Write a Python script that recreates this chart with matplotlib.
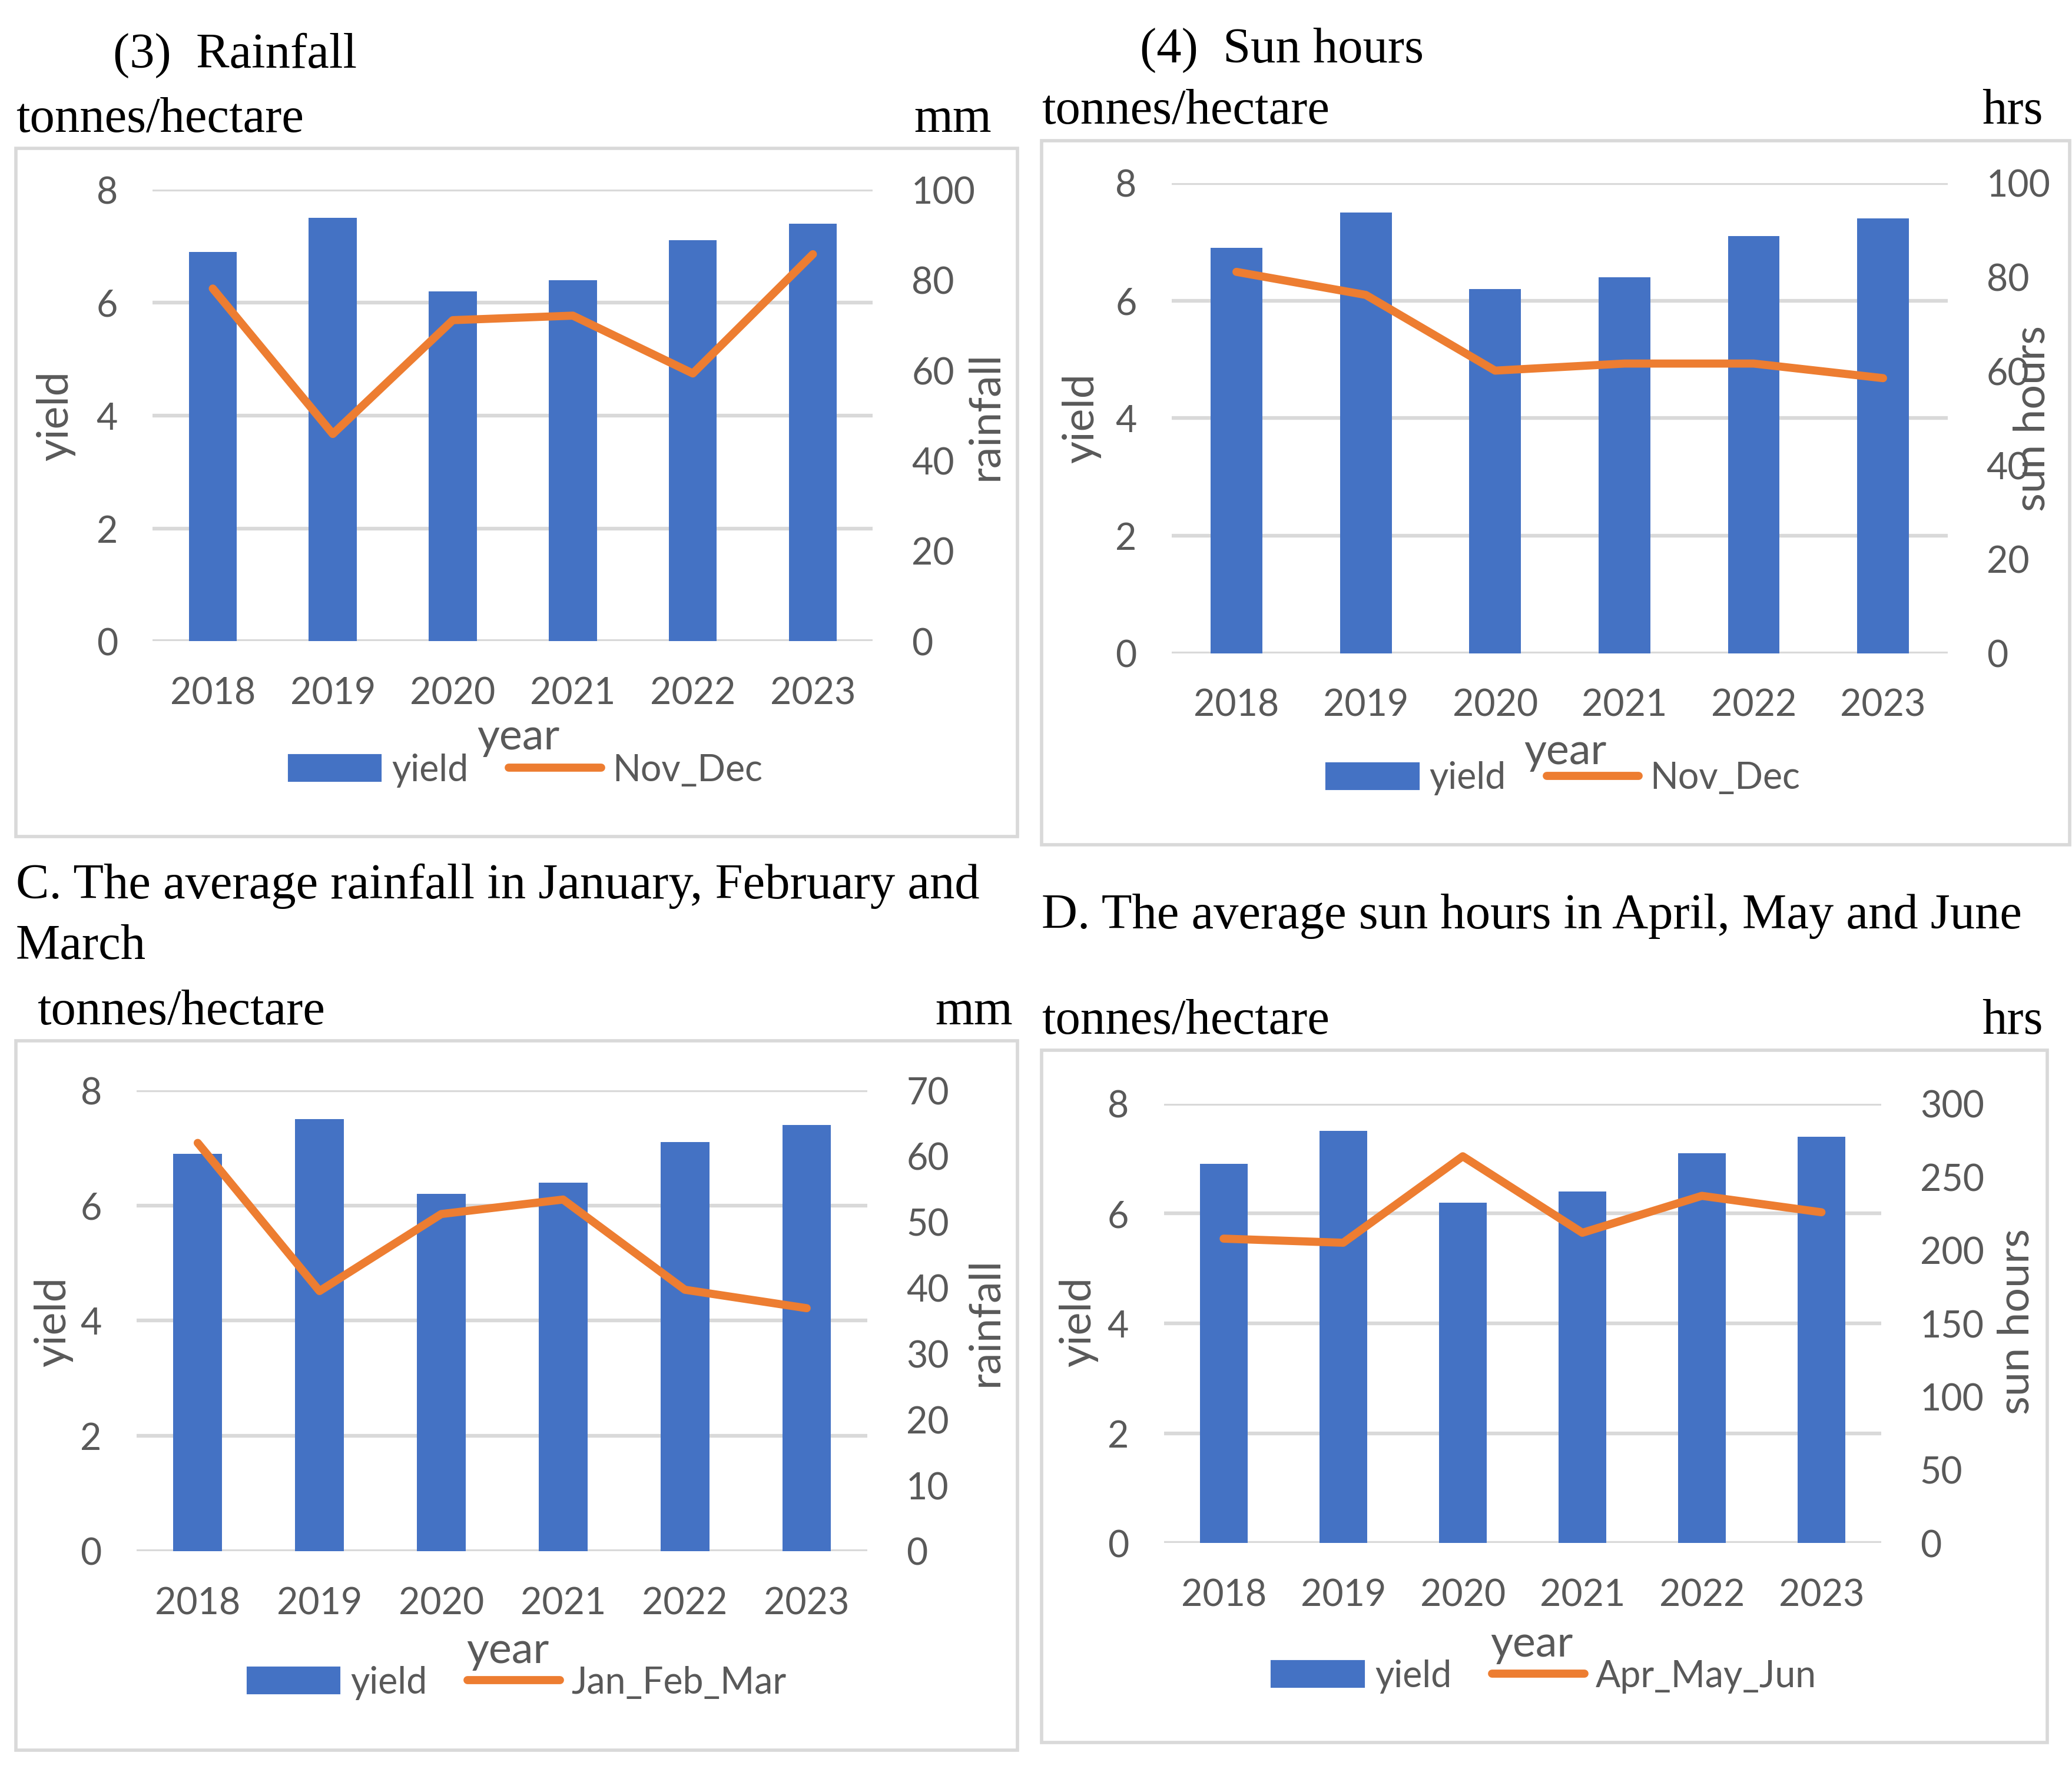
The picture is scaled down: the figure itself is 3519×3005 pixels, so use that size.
import matplotlib
matplotlib.use("Agg")
import matplotlib.pyplot as plt
from matplotlib.patches import Rectangle, Patch
from matplotlib.lines import Line2D

# data
years = ["2018", "2019", "2020", "2021", "2022", "2023"]
yield_t = [6.9, 7.5, 6.2, 6.4, 7.1, 7.4]
rain_nov_dec = [78.1, 45.9, 71.1, 72.1, 59.3, 85.7]
sun_nov_dec = [81.1, 76.2, 60.1, 61.6, 61.6, 58.5]
rain_jan_mar = [62.0, 39.5, 51.2, 53.4, 39.7, 36.9]
sun_apr_jun = [207.8, 205.0, 264.0, 211.8, 237.0, 225.8]

BLUE = "#4472C4"
ORANGE = "#ED7D31"
GRID = "#D9D9D9"
GREY = "#595959"
SANS = "Lato"
SERIF = "Liberation Serif"
SERIF_SIZE = 27
SANS_SIZE = 20
TITLE_SIZE = 23.5

W, H = 1560.0, 1332.0
fig = plt.figure(figsize=(15.6, 13.32), dpi=225.64)


def fx(x):
    return x / W


def fy(y):
    return 1 - y / H


def panel(box, ax_box, right_vals, right_max, right_step, right_label,
          left_unit_pos, right_unit, right_unit_pos, series_name,
          year_pos, leg_pos, ylab_x, rlab_x, lab_y):
    # outer chart frame
    x0, y0, x1, y1 = box
    fig.patches.append(Rectangle((fx(x0), fy(y1)), fx(x1) - fx(x0), fy(y0) - fy(y1),
                                 transform=fig.transFigure, fill=False,
                                 edgecolor=GRID, linewidth=1.8))
    l, t, r, b = ax_box
    ax = fig.add_axes([fx(l), fy(b), fx(r) - fx(l), fy(t) - fy(b)])
    xs = range(len(years))
    ax.bar(xs, yield_t, width=0.4, color=BLUE, zorder=2)
    ax.set_xlim(-0.5, len(years) - 0.5)
    ax.set_ylim(0, 8)
    ax.set_yticks([0, 2, 4, 6, 8])
    ax.set_xticks(list(xs))
    ax.set_xticklabels(years)
    ax.grid(axis="y", color=GRID, linewidth=2.0, zorder=0)
    ax.set_axisbelow(True)
    for s in ax.spines.values():
        s.set_visible(False)
    ax.tick_params(length=0, labelsize=SANS_SIZE, labelcolor=GREY, pad=19)
    ax.tick_params(axis="x", pad=19)

    ax2 = ax.twinx()
    ax2.plot(xs, right_vals, color=ORANGE, linewidth=4.4, solid_capstyle="round", zorder=3)
    ax2.set_ylim(0, right_max)
    ax2.set_yticks(list(range(0, right_max + 1, right_step)))
    for s in ax2.spines.values():
        s.set_visible(False)
    ax2.tick_params(length=0, labelsize=SANS_SIZE, labelcolor=GREY, pad=21)

    for a in (ax, ax2):
        for lab in a.get_xticklabels() + a.get_yticklabels():
            lab.set_fontfamily(SANS)

    fig.text(fx(ylab_x), fy(lab_y), "yield", rotation=90, ha="center", va="center",
             fontsize=TITLE_SIZE, color=GREY, family=SANS)
    fig.text(fx(rlab_x), fy(lab_y), right_label, rotation=90, ha="center", va="center",
             fontsize=TITLE_SIZE, color=GREY, family=SANS)
    fig.text(fx(year_pos[0]), fy(year_pos[1]), "year", ha="center", va="center",
             fontsize=TITLE_SIZE, color=GREY, family=SANS)
    fig.text(fx(left_unit_pos[0]), fy(left_unit_pos[1]), "tonnes/hectare", ha="left",
             va="center", fontsize=SERIF_SIZE, color="black", family=SERIF)
    fig.text(fx(right_unit_pos[0]), fy(right_unit_pos[1]), right_unit, ha="left",
             va="center", fontsize=SERIF_SIZE, color="black", family=SERIF)

    handles = [Patch(color=BLUE), Line2D([], [], color=ORANGE, linewidth=4.4,
                                         solid_capstyle="round")]
    fig.legend(handles, ["yield", series_name], loc="center left", ncol=2,
               bbox_to_anchor=(fx(leg_pos[0]), fy(leg_pos[1])), frameon=False,
               prop={"family": SANS, "size": SANS_SIZE}, labelcolor=GREY,
               handlelength=2.5, handleheight=0.7, handletextpad=0.3,
               columnspacing=1.1, borderpad=0, borderaxespad=0)
    return ax


# panel (3) Rainfall
fig.text(fx(85), fy(42), "(3)  Rainfall", ha="left", va="center", fontsize=SERIF_SIZE,
         family=SERIF)
panel((12, 112, 766, 630), (115, 143, 657, 483), rain_nov_dec, 100, 20, "rainfall",
      (12, 90), "mm", (688, 90), "Nov_Dec", (390, 555), (217, 580), 42, 742, 313)

# panel (4) Sun hours
fig.text(fx(858), fy(38), "(4)  Sun hours", ha="left", va="center", fontsize=SERIF_SIZE,
         family=SERIF)
panel((784, 106, 1558, 636), (882, 138, 1466, 492), sun_nov_dec, 100, 20, "sun hours",
      (784, 84), "hrs", (1492, 84), "Nov_Dec", (1178, 566), (998, 586), 814, 1530, 315)

# panel C
fig.text(fx(12), fy(667), "C. The average rainfall in January, February and", ha="left",
         va="center", fontsize=SERIF_SIZE, family=SERIF)
fig.text(fx(12), fy(713), "March", ha="left", va="center", fontsize=SERIF_SIZE, family=SERIF)
panel((12, 784, 766, 1318), (103, 821, 653, 1168), rain_jan_mar, 70, 10, "rainfall",
      (28, 762), "mm", (704, 762), "Jan_Feb_Mar", (382, 1243), (186, 1267), 40, 742, 995)

# panel D
fig.text(fx(784), fy(690), "D. The average sun hours in April, May and June", ha="left",
         va="center", fontsize=SERIF_SIZE, family=SERIF)
panel((784, 791, 1541, 1312), (876, 831, 1416, 1162), sun_apr_jun, 300, 50, "sun hours",
      (784, 769), "hrs", (1492, 769), "Apr_May_Jun", (1153, 1238), (957, 1262), 812, 1518, 995)

fig.savefig("out.png", dpi=225.64, facecolor="white")
